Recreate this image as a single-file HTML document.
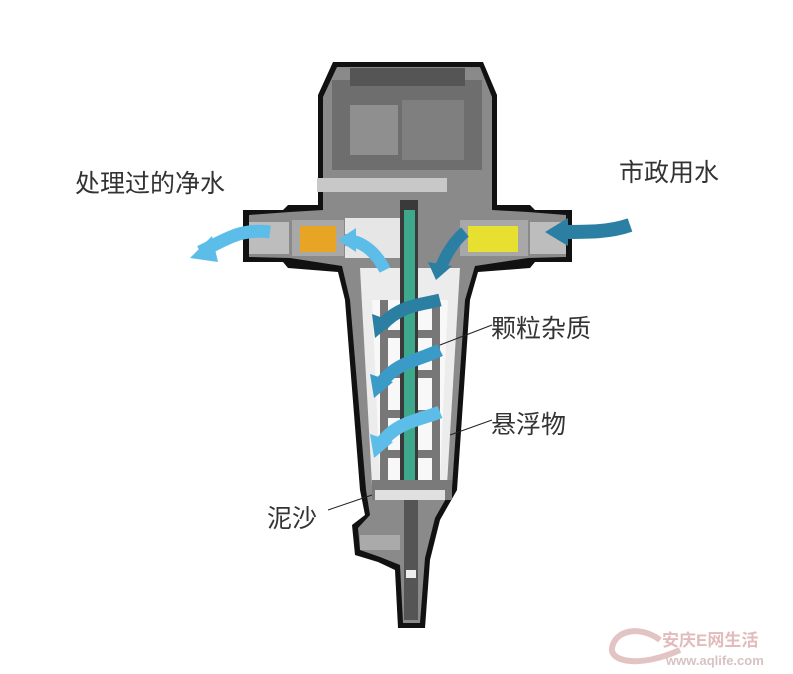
<!DOCTYPE html>
<html><head><meta charset="utf-8"><style>
html,body{margin:0;padding:0;background:#fff;}
svg{display:block;}
text{font-family:"Liberation Sans","Noto Sans CJK SC",sans-serif;}
</style></head><body>
<svg width="793" height="674" viewBox="0 0 793 674" xmlns="http://www.w3.org/2000/svg">
<rect width="793" height="674" fill="#fff"/>
<path d="M333,62 L483,62 L497,95 L497,205 L530,205 L535,210 L572,210 L572,262 L535,262 L530,268 L478,272 L470,300 L457,490 L440,520 L430,560 L425,628 L398,628 L395,570 L378,562 L355,555 L352,525 L365,515 L360,490 L345,300 L338,272 L288,268 L283,262 L243,262 L243,210 L283,210 L288,205 L318,205 L318,95 Z" fill="#111"/>
<path d="M337,67 L480,67 L492,97 L492,210 L528,212 L566,215 L566,257 L528,258 L475,266 L465,300 L452,488 L435,518 L425,558 L420,623 L403,623 L400,565 L380,557 L360,550 L358,528 L370,515 L366,490 L350,300 L342,266 L290,258 L249,257 L249,215 L290,212 L323,210 L323,97 Z" fill="#8a8a8a"/>
<rect x="332" y="80" width="150" height="90" fill="#6e6e6e"/>
<rect x="350" y="68" width="115" height="18" fill="#555"/>
<rect x="350" y="105" width="48" height="50" fill="#8f8f8f"/>
<rect x="402" y="100" width="62" height="60" fill="#7f7f7f"/>
<rect x="317" y="178" width="130" height="14" fill="#c8c8c8"/>
<rect x="249" y="222" width="40" height="32" fill="#bdbdbd"/>
<rect x="530" y="222" width="36" height="32" fill="#bdbdbd"/>
<rect x="292" y="220" width="52" height="36" fill="#a8a8a8"/>
<rect x="300" y="226" width="36" height="26" fill="#e8a525"/>
<rect x="345" y="218" width="60" height="40" fill="#e6e6e6"/>
<rect x="460" y="220" width="68" height="36" fill="#a8a8a8"/>
<rect x="468" y="226" width="50" height="26" fill="#e8e030"/>
<path d="M360,268 L460,268 L447,485 L372,485 Z" fill="#ececec"/>
<path d="M372,300 L448,300 L440,480 L380,480 Z" fill="#f8f8f8"/>
<g fill="#777">
<rect x="380" y="300" width="8" height="180"/><rect x="432" y="300" width="8" height="180"/>
<rect x="388" y="330" width="16" height="8"/><rect x="416" y="330" width="16" height="8"/>
<rect x="388" y="370" width="16" height="8"/><rect x="416" y="370" width="16" height="8"/>
<rect x="388" y="410" width="16" height="8"/><rect x="416" y="410" width="16" height="8"/>
<rect x="388" y="450" width="16" height="8"/><rect x="416" y="450" width="16" height="8"/>
</g>
<rect x="400" y="200" width="18" height="300" fill="#3a3a3a"/>
<rect x="404" y="210" width="11" height="290" fill="#3ea88c"/>
<rect x="372" y="480" width="80" height="20" fill="#7a7a7a"/>
<rect x="375" y="490" width="70" height="10" fill="#e0e0e0"/>
<rect x="404" y="500" width="14" height="120" fill="#555"/>
<rect x="406" y="570" width="10" height="8" fill="#eee"/>
<rect x="360" y="535" width="40" height="15" fill="#aaa"/>
<g fill="none" stroke-linecap="butt">
<path d="M270,232 C240,228 225,240 200,252" stroke="#5bbde8" stroke-width="13"/>
<path d="M385,270 C375,250 360,240 345,240" stroke="#5bbde8" stroke-width="12"/>
<path d="M630,225 C610,232 590,232 560,232" stroke="#2a7fa3" stroke-width="14"/>
<path d="M465,232 C455,240 445,255 440,270" stroke="#2a7fa3" stroke-width="12"/>
<path d="M440,300 C420,305 400,305 382,325" stroke="#2a7fa3" stroke-width="13"/>
<path d="M440,350 C420,360 395,362 380,385" stroke="#3a9bc8" stroke-width="13"/>
<path d="M440,412 C420,420 395,422 380,445" stroke="#5bbde8" stroke-width="13"/>
</g>
<g>
<polygon points="190,258 212,236 218,262" fill="#5bbde8"/>
<polygon points="338,240 356,228 356,252" fill="#5bbde8"/>
<polygon points="545,232 568,218 568,246" fill="#2a7fa3"/>
<polygon points="436,280 428,262 452,266" fill="#2a7fa3"/>
<polygon points="375,338 372,314 394,322" fill="#2a7fa3"/>
<polygon points="374,398 370,374 393,382" fill="#3a9bc8"/>
<polygon points="374,458 370,434 393,442" fill="#5bbde8"/>
</g>
<g stroke="#222" stroke-width="1">
<line x1="492" y1="325" x2="440" y2="345"/>
<line x1="492" y1="420" x2="450" y2="435"/>
<line x1="328" y1="510" x2="372" y2="495"/>
</g>
<g font-size="25" fill="#333">
<text x="75" y="192">处理过的净水</text>
<text x="619" y="181">市政用水</text>
<text x="491" y="337">颗粒杂质</text>
<text x="491" y="433">悬浮物</text>
<text x="267" y="527">泥沙</text>
</g>
<path d="M660,640 C640,625 615,630 612,648 C610,662 640,668 680,650" fill="none" stroke="#e3c4c4" stroke-width="6"/>
<text x="662" y="646" font-size="17" fill="#e2bcbc" font-weight="bold">安庆E网生活</text>
<text x="666" y="665" font-size="13" fill="#d8c2c2" font-weight="bold">www.aqlife.com</text>
</svg>
</body></html>
